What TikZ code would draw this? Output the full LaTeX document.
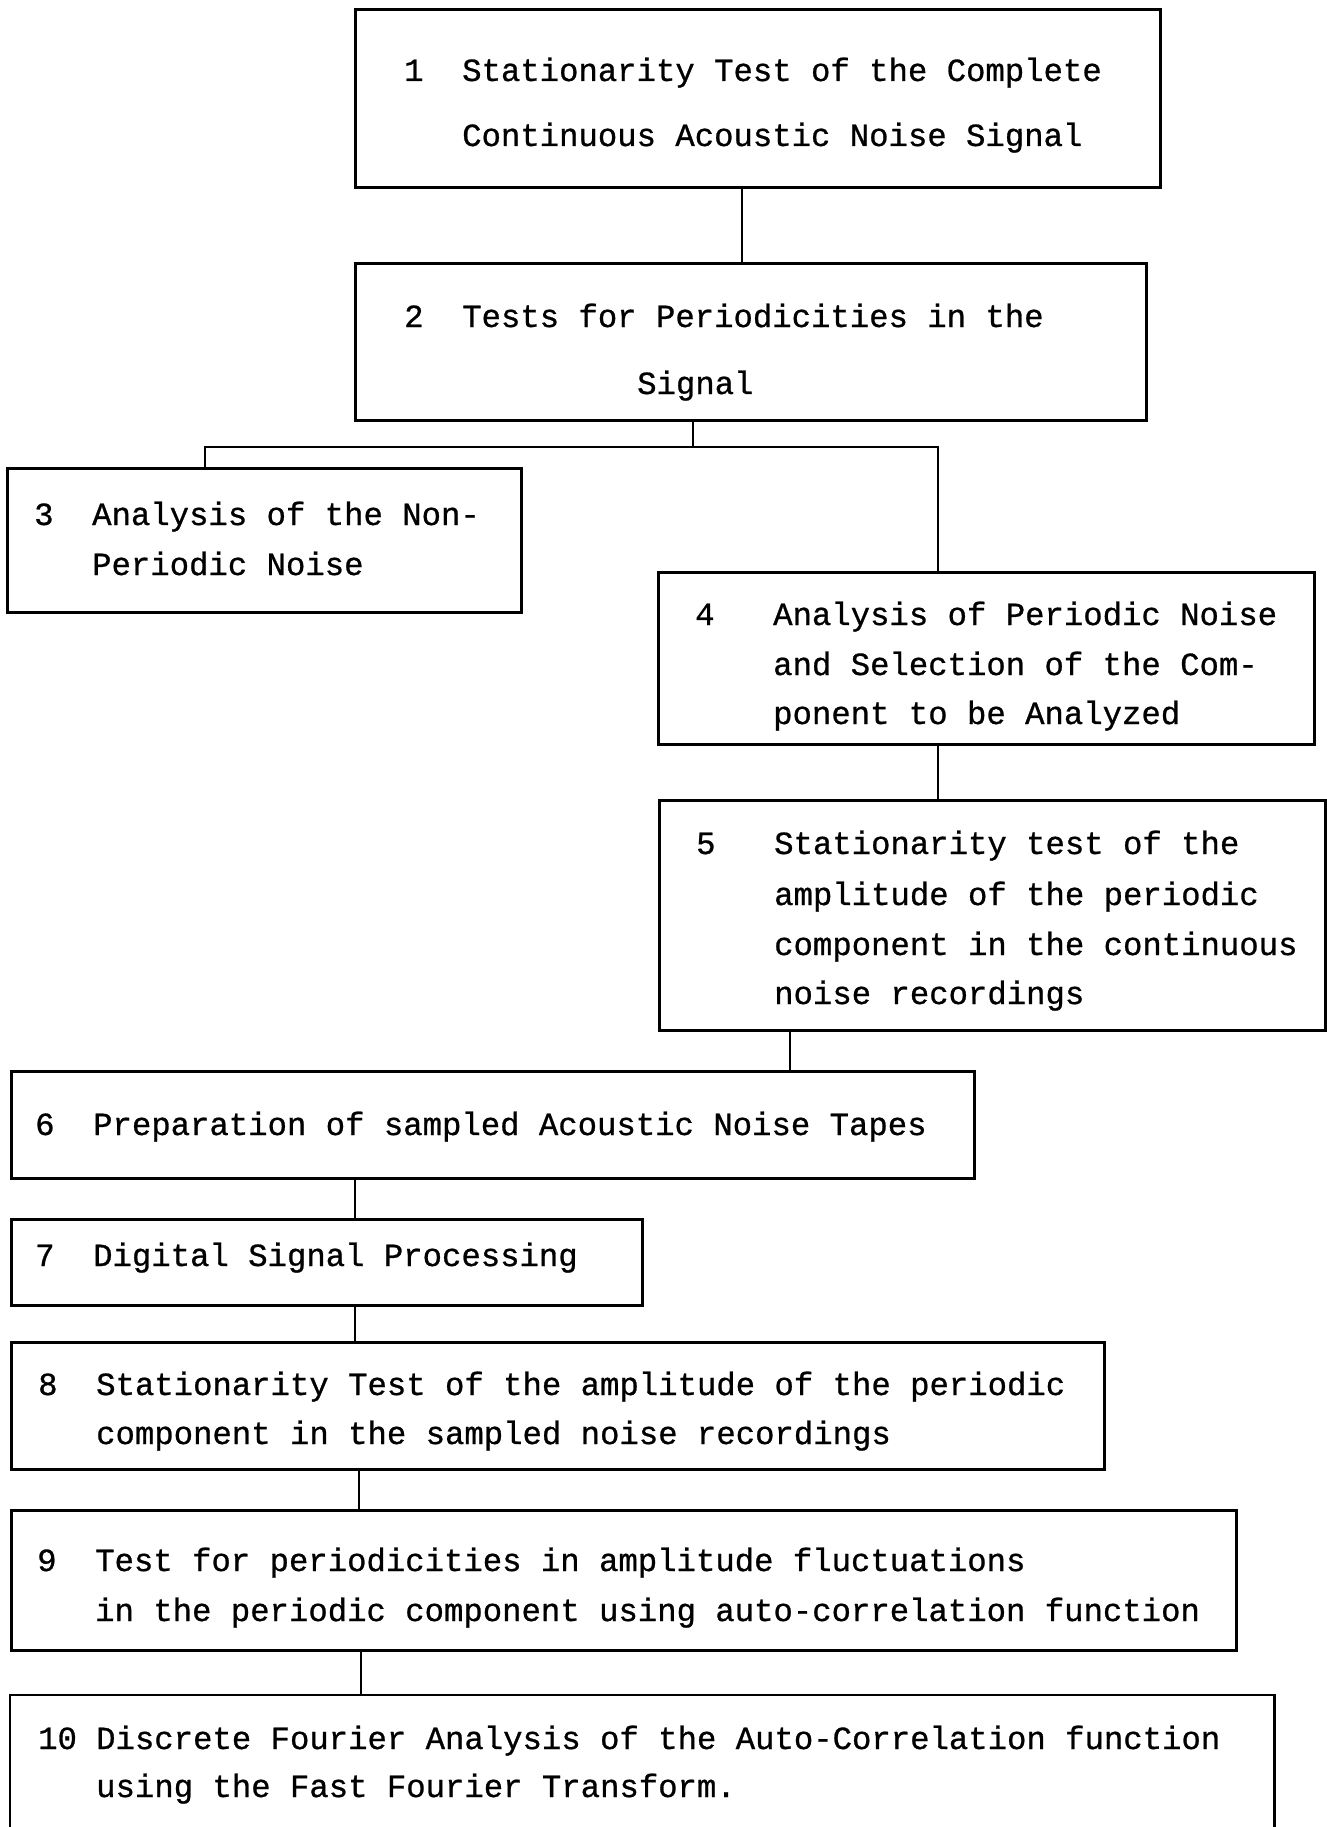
\documentclass[tikz,border=0pt]{standalone}
\usepackage{fontspec}
\setmonofont[FakeBold=0.8]{Liberation Mono}
\tikzset{
  box/.style={rectangle, draw, line width=2.8pt, inner sep=0pt, anchor=north west},
  openbox/.style={rectangle, draw=none, inner sep=0pt, anchor=north west},
  txt/.style={anchor=base west, inner sep=0pt, font=\ttfamily\fontsize{32.3}{38}\selectfont},
  link/.style={line width=2.6pt},
}
\begin{document}
\begin{tikzpicture}[x=1pt,y=-1pt]
\useasboundingbox (0,0) rectangle (1326,1827);
\fill[white] (0,0) rectangle (1326,1827);

% boxes
\node[box, minimum width=805pt, minimum height=178pt] (b1) at (354,8) {};
\node[box, minimum width=791pt, minimum height=157pt] (b2) at (354,262) {};
\node[box, minimum width=514pt, minimum height=144pt] (b3) at (6,467) {};
\node[box, minimum width=656pt, minimum height=172pt] (b4) at (657,571) {};
\node[box, minimum width=666pt, minimum height=230pt] (b5) at (658,799) {};
\node[box, minimum width=963pt, minimum height=107pt] (b6) at (10,1070) {};
\node[box, minimum width=631pt, minimum height=86pt] (b7) at (10,1218) {};
\node[box, minimum width=1093pt, minimum height=127pt] (b8) at (10,1341) {};
\node[box, minimum width=1225pt, minimum height=140pt] (b9) at (10,1509) {};
\node[openbox, minimum width=1264pt, minimum height=132pt] (b10) at (10,1695) {};
\draw[link, line width=2.8pt] (b10.south west) -- (b10.north west) -- (b10.north east) -- (b10.south east);

% connector positions
\coordinate (c12) at (742,0);
\coordinate (c2) at (693,0);
\coordinate (cl) at (205,0);
\coordinate (cr) at (938,0);
\coordinate (br) at (0,447);
\coordinate (c56) at (790,0);
\coordinate (c67) at (355,0);
\coordinate (c89) at (359,0);
\coordinate (c910) at (361,0);

% connectors
\draw[link] (c12 |- b1.south) -- (c12 |- b2.north);
\draw[link] (c2 |- b2.south) -- (c2 |- br);
\draw[link] (cl |- b3.north) -- (cl |- br) -- (cr |- br) -- (cr |- b4.north);
\draw[link] (cr |- b4.south) -- (cr |- b5.north);
\draw[link] (c56 |- b5.south) -- (c56 |- b6.north);
\draw[link] (c67 |- b6.south) -- (c67 |- b7.north);
\draw[link] (c67 |- b7.south) -- (c67 |- b8.north);
\draw[link] (c89 |- b8.south) -- (c89 |- b9.north);
\draw[link] (c910 |- b9.south) -- (c910 |- b10.north);

% texts
\node[txt] (n1) at (404,81) {1};
\node[txt] (t1a) at (462,81) {Stationarity Test of the Complete};
\node[txt] (t1b) at (462,146) {Continuous Acoustic Noise Signal};

\node[txt] (n2) at (404,327) {2};
\node[txt] (t2a) at (462,327) {Tests for Periodicities in the};
\node[txt] (t2b) at (637,394) {Signal};

\node[txt] (n3) at (34,525) {3};
\node[txt] (t3a) at (92,525) {Analysis of the Non-};
\node[txt] (t3b) at (92,575) {Periodic Noise};

\node[txt] (n4) at (695,625) {4};
\node[txt] (t4a) at (773,625) {Analysis of Periodic Noise};
\node[txt] (t4b) at (773,675) {and Selection of the Com-};
\node[txt] (t4c) at (773,724) {ponent to be Analyzed};

\node[txt] (n5) at (696,854) {5};
\node[txt] (t5a) at (774,854) {Stationarity test of the};
\node[txt] (t5b) at (774,905) {amplitude of the periodic};
\node[txt] (t5c) at (774,955) {component in the continuous};
\node[txt] (t5d) at (774,1004) {noise recordings};

\node[txt] (n6) at (35,1135) {6};
\node[txt] (t6a) at (93,1135) {Preparation of sampled Acoustic Noise Tapes};

\node[txt] (n7) at (35,1266) {7};
\node[txt] (t7a) at (93,1266) {Digital Signal Processing};

\node[txt] (n8) at (38,1395) {8};
\node[txt] (t8a) at (96,1395) {Stationarity Test of the amplitude of the periodic};
\node[txt] (t8b) at (96,1444) {component in the sampled noise recordings};

\node[txt] (n9) at (37,1571) {9};
\node[txt] (t9a) at (95,1571) {Test for periodicities in amplitude fluctuations};
\node[txt] (t9b) at (95,1621) {in the periodic component using auto-correlation function};

\node[txt] (n10) at (38,1749) {10};
\node[txt] (t10a) at (96,1749) {Discrete Fourier Analysis of the Auto-Correlation function};
\node[txt] (t10b) at (96,1797) {using the Fast Fourier Transform.};
\end{tikzpicture}
\end{document}
